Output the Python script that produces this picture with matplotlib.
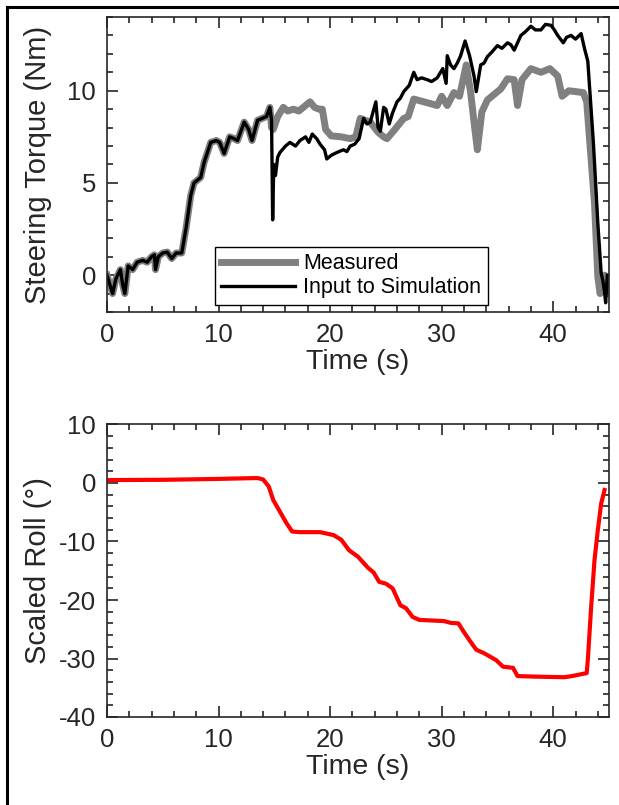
import numpy as np
import matplotlib
matplotlib.use("Agg")
import matplotlib.pyplot as plt
from matplotlib.lines import Line2D
from matplotlib.ticker import MultipleLocator

plt.rcParams["font.family"] = ["Liberation Sans", "DejaVu Sans"]
plt.rcParams["axes.unicode_minus"] = False

# steering torque input to simulation (black)
t_input = [0.0, 0.3, 0.5, 0.8, 1.2, 1.4, 1.6, 1.9, 2.3, 2.7,
           3.2, 3.6, 4.0, 4.25, 4.35, 4.6, 5.0, 5.4, 5.8, 6.2,
           6.7, 7.1, 7.5, 7.8, 8.4, 8.7, 9.3, 9.8, 10.1, 10.5,
           11.0, 11.4, 11.7, 12.3, 12.7, 13.0, 13.5, 13.9, 14.3, 14.6,
           14.75, 14.85, 14.95, 15.1, 15.3, 15.5, 16.0, 16.4, 16.9, 17.3,
           17.8, 18.1, 18.4, 18.8, 19.1, 19.5, 19.7, 20.1, 20.6, 21.2,
           21.5, 21.8, 22.2, 22.6, 23.0, 23.3, 23.6, 24.1, 24.3, 24.5,
           24.8, 25.0, 25.3, 25.6, 26.0, 26.3, 26.6, 27.1, 27.5, 27.8,
           28.2, 28.7, 29.1, 29.6, 30.1, 30.4, 30.5, 30.8, 31.1, 31.4,
           31.7, 32.1, 32.5, 32.9, 33.1, 33.5, 33.8, 34.1, 34.5, 35.0,
           35.4, 35.9, 36.2, 36.5, 37.1, 37.5, 38.0, 38.4, 38.9, 39.3,
           39.8, 40.1, 40.4, 40.9, 41.2, 41.6, 42.0, 42.5, 42.8, 43.1,
           43.6, 44.0, 44.3, 44.45, 44.6, 44.7, 44.85]
torque_input = [0.0, -0.6, -1.0, -0.2, 0.3, -0.5, -1.0, 0.5, 0.3, 0.7,
                0.8, 0.7, 1.0, 1.1, 0.3, 1.0, 1.2, 1.25, 0.9, 1.2,
                1.2, 2.6, 4.3, 5.0, 5.3, 6.1, 7.2, 7.3, 7.2, 6.6,
                7.5, 7.4, 7.3, 8.3, 7.9, 7.3, 8.4, 8.5, 8.6, 9.1,
                8.4, 3.0, 6.0, 5.4, 6.4, 6.65, 7.0, 7.2, 7.0, 7.3,
                7.5, 7.2, 7.65, 7.4, 7.1, 6.8, 6.3, 6.5, 6.65, 6.8,
                6.7, 7.0, 7.1, 7.4, 8.5, 8.2, 8.3, 9.4, 8.0, 7.8,
                9.1, 9.0, 8.2, 8.8, 9.4, 9.6, 9.95, 10.3, 11.0, 10.6,
                10.7, 10.6, 10.5, 10.7, 11.2, 10.4, 11.9, 11.4, 11.2, 11.5,
                11.9, 12.7, 11.9, 10.8, 9.95, 11.4, 11.5, 11.85, 12.1, 12.45,
                12.3, 12.6, 12.5, 12.2, 13.0, 13.2, 13.5, 13.3, 13.3, 13.6,
                13.55, 13.3, 13.0, 12.6, 12.9, 13.0, 12.8, 13.1, 12.3, 11.6,
                7.2, 2.8, 0.1, -0.3, -0.9, -1.5, 0.0]

# measured steering torque (grey)
t_meas = [0.0, 0.3, 0.5, 0.8, 1.2, 1.4, 1.6, 1.9, 2.3, 2.7,
          3.2, 3.6, 4.0, 4.25, 4.35, 4.6, 5.0, 5.4, 5.8, 6.2,
          6.7, 7.1, 7.5, 7.8, 8.4, 8.7, 9.3, 9.8, 10.1, 10.5,
          11.0, 11.4, 11.7, 12.3, 12.7, 13.0, 13.5, 13.9, 14.3, 14.6,
          14.75, 14.9, 15.3, 15.8, 16.2, 16.7, 17.2, 17.6, 18.2, 18.6,
          19.0, 19.3, 19.6, 20.1, 21.0, 21.8, 22.3, 22.7, 23.6, 24.3,
          24.8, 25.1, 25.8, 26.6, 27.0, 27.5, 28.4, 29.6, 30.0, 30.5,
          31.1, 31.6, 32.2, 32.6, 32.9, 33.2, 33.6, 34.1, 35.3, 35.9,
          36.5, 36.8, 37.2, 38.0, 38.9, 39.7, 40.4, 40.8, 41.4, 42.7,
          43.0, 43.7, 44.0, 44.2, 44.6, 44.9]
torque_meas = [0.0, -0.6, -1.0, -0.2, 0.3, -0.5, -1.0, 0.5, 0.3, 0.7,
               0.8, 0.7, 1.0, 1.1, 0.3, 1.0, 1.2, 1.25, 0.9, 1.2,
               1.2, 2.6, 4.3, 5.0, 5.3, 6.1, 7.2, 7.3, 7.2, 6.6,
               7.5, 7.4, 7.3, 8.3, 7.9, 7.3, 8.4, 8.5, 8.6, 9.1,
               8.0, 7.9, 8.6, 9.1, 8.9, 9.0, 8.9, 9.1, 9.4, 9.1,
               9.0, 9.0, 7.9, 7.55, 7.5, 7.4, 7.5, 8.5, 8.3, 7.75,
               7.5, 7.4, 7.9, 8.5, 8.6, 9.55, 9.4, 9.2, 9.7, 9.2,
               9.9, 9.7, 11.4, 9.9, 8.3, 6.8, 8.85, 9.5, 10.1, 10.65,
               10.6, 9.2, 10.6, 11.2, 11.0, 11.2, 10.8, 9.7, 10.0, 9.9,
               9.4, 3.9, -0.1, -1.0, 0.0, -1.0]

# scaled roll angle (red)
t_roll = [0.0, 5.2, 10.0, 13.5, 14.0,
          14.5, 14.9, 15.5, 16.1, 16.6,
          17.3, 19.1, 20.3, 21.0, 21.7,
          22.5, 23.4, 23.9, 24.4, 25.0,
          25.6, 26.3, 26.8, 27.4, 28.0,
          30.2, 30.8, 31.5, 32.0, 32.5,
          33.1, 33.8, 34.9, 35.5, 36.4,
          36.8, 38.4, 41.0, 41.7, 42.2,
          43.0, 43.1, 43.4, 43.7, 44.0,
          44.3, 44.6]
roll = [0.5, 0.55, 0.7, 0.85, 0.6,
        -0.6, -2.9, -4.9, -6.9, -8.3,
        -8.4, -8.4, -8.9, -9.7, -11.5,
        -12.6, -14.5, -15.3, -16.9, -17.2,
        -18.0, -20.9, -21.4, -22.9, -23.4,
        -23.6, -23.9, -24.0, -25.5, -26.9,
        -28.5, -29.1, -30.3, -31.4, -31.6,
        -33.0, -33.1, -33.2, -33.0, -32.8,
        -32.5, -30.3, -21.2, -13.2, -8.0,
        -3.5, -1.2]

W, H = 619, 805
fig = plt.figure(figsize=(W / 100, H / 100), dpi=100)
ax1 = fig.add_axes([107 / W, 1 - 312 / H, 502 / W, 295 / H])
ax2 = fig.add_axes([107 / W, 1 - 717 / H, 502 / W, 292.5 / H])

ax1.plot(t_meas, torque_meas, color="#808080", lw=5, label="Measured")
ax1.plot(t_input, torque_input, color="black", lw=2.4, label="Input to Simulation")
ax2.plot(t_roll, roll, color="#ff0000", lw=3)

ax1.set_xlim(0, 45)
ax1.set_ylim(-2, 14)
ax2.set_xlim(0, 45)
ax2.set_ylim(-40, 10)

ax1.xaxis.set_major_locator(MultipleLocator(10))
ax1.xaxis.set_minor_locator(MultipleLocator(2))
ax1.yaxis.set_major_locator(MultipleLocator(5))
ax1.yaxis.set_minor_locator(MultipleLocator(1))
ax2.xaxis.set_major_locator(MultipleLocator(10))
ax2.xaxis.set_minor_locator(MultipleLocator(2))
ax2.yaxis.set_major_locator(MultipleLocator(10))
ax2.yaxis.set_minor_locator(MultipleLocator(2))

for ax in (ax1, ax2):
    ax.tick_params(which="both", direction="in", top=True, right=True,
                   color="#262626", labelcolor="#262626", width=1.2)
    ax.tick_params(which="major", length=8, labelsize=18.5, pad=8)
    ax.tick_params(which="minor", length=4.5)
    for s in ax.spines.values():
        s.set_color("#262626")
        s.set_linewidth(1.2)
    ax.set_xlabel("Time (s)", fontsize=20.5, color="#262626", labelpad=1)

ax1.set_ylabel("Steering Torque (Nm)", fontsize=21, color="#262626")
ax2.set_ylabel("Scaled Roll (°)", fontsize=21, color="#262626")
ax1.yaxis.set_label_coords(-0.11, 0.5)
ax2.yaxis.set_label_coords(-0.11, 0.5)

leg = ax1.legend(loc="lower left", bbox_to_anchor=(0.215, 0.024), borderaxespad=0,
                 fontsize=15.5, handlelength=3.4, handletextpad=0.4,
                 borderpad=0.3, labelspacing=0.15, fancybox=False, framealpha=1)
leg.get_frame().set_edgecolor("black")
leg.get_frame().set_linewidth(1.0)

# outer frame (top and left edges visible)
fig.add_artist(Line2D([7 / W, 7 / W], [0, 1 - 7 / H], color="black", lw=2.2,
                      transform=fig.transFigure))
fig.add_artist(Line2D([7 / W, 1], [1 - 7 / H, 1 - 7 / H], color="black", lw=2.2,
                      transform=fig.transFigure))

fig.savefig("out.png", dpi=100)
